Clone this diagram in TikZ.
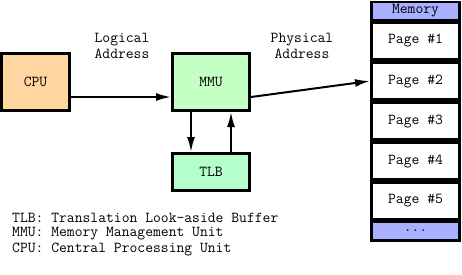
\documentclass[tikz,border=0pt]{standalone}
\usepackage{fontspec}
\usetikzlibrary{arrows.meta}
\definecolor{cpuc}{HTML}{FFD6A0}
\definecolor{mmuc}{HTML}{C4FFC4}
\definecolor{tlbc}{HTML}{B4FFCC}
\definecolor{memc}{HTML}{A8B0FF}
\tikzset{
  box/.style={draw=black, line width=2.7pt, inner sep=0pt, font=\ttfamily\fontsize{15.2}{16}\selectfont},
  cell/.style={box, fill=white, minimum width=88.3pt, minimum height=37.3pt},
  conn/.style={line width=2pt, -{Latex[length=15pt,width=8pt]}},
  lbl/.style={align=center, font=\ttfamily\fontsize{15.2}{16}\selectfont, inner sep=0pt},
  legend/.style={anchor=west, font=\ttfamily\fontsize{15.2}{15}\selectfont, inner sep=0pt}
}
\begin{document}
\begin{tikzpicture}[x=1pt,y=-1pt]
\useasboundingbox (0,0) rectangle (462,274);
\node[box, fill=cpuc, minimum width=67.8pt, minimum height=57.3pt] (cpu) at (35.5,82) {CPU};
\node[box, fill=mmuc, minimum width=77.3pt, minimum height=57.3pt] (mmu) at (211,82) {MMU};
\node[box, fill=tlbc, minimum width=77.3pt, minimum height=37.3pt] (tlb) at (211,172) {TLB};
% memory column
\node[box, fill=memc, minimum width=88.3pt, minimum height=18.3pt] (mem) at (415.5,11) {Memory};
\node[cell] (p1) at (415.5,41) {Page \#1};
\node[cell] (p2) at (415.5,81) {Page \#2};
\node[cell] (p3) at (415.5,121) {Page \#3};
\node[cell] (p4) at (415.5,161) {Page \#4};
\node[cell] (p5) at (415.5,201) {Page \#5};
\node[box, fill=memc, minimum width=88.3pt, minimum height=18.3pt] (dots) at (415.5,231) {...};
% connectors
\draw[conn] ([yshift=-15pt]cpu.east) -- ([yshift=-15pt]mmu.west);
\draw[conn] ([yshift=-15pt]mmu.east) -- (p2.west);
\draw[conn] ([xshift=-20pt]mmu.south) -- ([xshift=-20pt]tlb.north);
\draw[conn] ([xshift=20pt]tlb.north) -- ([xshift=20pt]mmu.south);
% labels
\node[lbl] (la) at (122,46) {Logical\\Address};
\node[lbl] (pa) at (302,46) {Physical\\Address};
\node[legend] (l1) at (12,218) {TLB: Translation Look-aside Buffer};
\node[legend] (l2) at (12,234) {MMU: Memory Management Unit};
\node[legend] (l3) at (12,249) {CPU: Central Processing Unit};
\end{tikzpicture}
\end{document}
